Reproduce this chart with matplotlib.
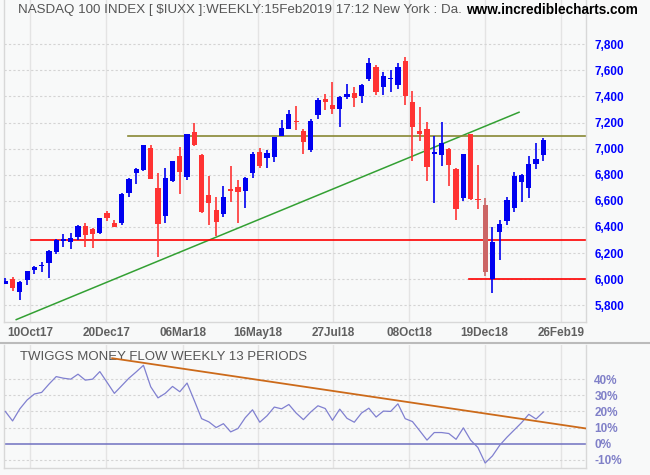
import matplotlib
matplotlib.use("Agg")
import matplotlib.pyplot as plt
from matplotlib.lines import Line2D
import numpy as np

# ---------------- data ----------------
opens = [5964, 6000, 5904, 5995, 6072, 6098, 6126, 6210, 6292, 6285,
         6323, 6405, 6385, 6356, 6508, 6433, 6431, 6659, 6813, 6836,
         7003, 6695, 6482, 6751, 6941, 6782, 7126, 6949, 6646, 6533,
         6497, 6685, 6703, 6677, 6813, 6978, 6928, 6935, 7099, 7153,
         7212, 7132, 6990, 7257, 7381, 7336, 7303, 7392, 7423, 7402,
         7530, 7629, 7471, 7535, 7486, 7675, 7361, 7132, 7147, 6962,
         6951, 6994, 6841, 6621, 7110, 6610, 6572, 6000, 6359, 6444,
         6544, 6744, 6697, 6882, 6951]
highs = [6008, 6015, 5985, 6065, 6103, 6128, 6223, 6305, 6346, 6354,
         6413, 6431, 6390, 6472, 6523, 6456, 6660, 6772, 6849, 7030,
         7026, 6810, 6849, 6905, 7010, 7112, 7195, 6957, 6792, 6633,
         6710, 6864, 6756, 6785, 6972, 7005, 6988, 7090, 7216, 7295,
         7325, 7148, 7224, 7389, 7421, 7510, 7400, 7499, 7476, 7495,
         7698, 7644, 7586, 7606, 7660, 7706, 7438, 7316, 7201, 7094,
         7208, 7004, 6849, 6960, 7112, 6872, 6623, 6397, 6451, 6633,
         6821, 6803, 6944, 7041, 7080]
lows = [5962, 5913, 5841, 5954, 6038, 6056, 6010, 6195, 6246, 6231,
        6300, 6246, 6238, 6349, 6449, 6400, 6418, 6628, 6728, 6828,
        6765, 6167, 6428, 6745, 6651, 6756, 7020, 6510, 6413, 6330,
        6474, 6590, 6433, 6544, 6772, 6850, 6849, 6900, 7097, 7148,
        7143, 6957, 6975, 7224, 7293, 7265, 7165, 7384, 7316, 7346,
        7517, 7410, 7410, 7433, 7456, 7333, 6905, 7058, 6752, 6584,
        6867, 6714, 6454, 6597, 6605, 6541, 6021, 5897, 6144, 6418,
        6518, 6590, 6621, 6844, 6903]
closes = [5985, 5933, 5979, 6062, 6092, 6102, 6215, 6300, 6308, 6315,
          6405, 6338, 6346, 6469, 6469, 6403, 6656, 6764, 6841, 7026,
          6767, 6421, 6772, 6903, 6821, 7110, 7028, 6513, 6587, 6436,
          6633, 6678, 6667, 6772, 6957, 6870, 6965, 7088, 7155, 7262,
          7206, 7051, 7209, 7376, 7354, 7300, 7397, 7415, 7387, 7491,
          7660, 7433, 7553, 7540, 7629, 7402, 7165, 7112, 6859, 6968,
          7040, 6874, 6536, 6956, 6618, 6605, 6051, 6287, 6426, 6603,
          6787, 6795, 6879, 6918, 7064]
highlight_bars = [66]

tmf = [20.0, 14.1, 21.6, 27.1, 30.8, 31.8, 36.9, 41.6, 40.6, 40.0,
       43.1, 39.4, 40.0, 44.7, 38.0, 31.2, 35.9, 40.6, 44.5, 48.6,
       35.3, 28.4, 31.2, 35.5, 32.2, 37.6, 26.7, 15.5, 13.5, 10.0,
       12.4, 7.3, 9.4, 16.1, 21.0, 13.3, 17.3, 22.7, 21.6, 24.3,
       19.0, 14.9, 19.6, 23.5, 21.8, 14.5, 21.4, 15.7, 13.3, 19.0,
       22.0, 16.5, 20.2, 20.0, 24.7, 15.5, 13.7, 8.0, 2.2, 6.9,
       6.9, 6.3, 2.7, 9.8, 2.2, -2.4, -12.0, -7.6, -1.0, 4.0,
       8.5, 13.0, 18.2, 15.3, 19.6]

date_labels = ["10Oct17", "20Dec17", "06Mar18", "16May18", "27Jul18",
               "08Oct18", "19Dec18", "26Feb19"]
price_ticks = [5800, 6000, 6200, 6400, 6600, 6800, 7000, 7200, 7400, 7600, 7800]
tmf_ticks = [-10, 0, 10, 20, 30, 40]

# trend / level lines (index, value)
green_trend = [(1.5, 5690), (70.66, 7279)]
olive_level = (16.9, 7100)
red_level_1 = (3.53, 6300)
red_level_2 = (63.8, 6000)
tmf_trend = [(14.7, 53.0), (79.9, 9.4)]

# ---------------- layout ----------------
W, H = 650, 475
fig = plt.figure(figsize=(6.5, 4.75), dpi=100)
bg = "#f8f9f9"
fig.patch.set_facecolor(bg)
plt.rcParams['font.family'] = ['Liberation Sans', 'DejaVu Sans']

left = 4 / W
width = (586 - 4) / W
ax1 = fig.add_axes([left, 1 - 321.7 / H, width, 321.7 / H])
ax2 = fig.add_axes([left, 1 - 468 / H, width, (468 - 345) / H])

n = len(closes)
x = np.arange(n)
xmin, xmax = -0.18, 79.87
tick_pos = [3.44, 13.89, 24.4, 34.72, 45.1, 55.57, 65.93, 76.4]

for ax in (ax1, ax2):
    ax.set_facecolor(bg)
    ax.set_xlim(xmin, xmax)
    for s in ax.spines.values():
        s.set_color("#d8d8d8")
        s.set_linewidth(1)
    ax.spines['top'].set_visible(False)
    for tp in tick_pos:
        ax.axvline(tp, color="#e4e4e4", lw=1, zorder=0)

# ---------------- main panel ----------------
ax1.set_ylim(5674, 8139)
for t in price_ticks:
    ax1.axhline(t, color="#d4d4d4", lw=0.8, ls=(0, (2, 2)), zorder=0)

up_col = "#0000f0"
dn_col = "#ff3333"
hl_col = "#cc6666"
for i in range(n):
    o, h, l, c = opens[i], highs[i], lows[i], closes[i]
    col = up_col if c >= o else dn_col
    if i in highlight_bars:
        col = hl_col
    ax1.vlines(i, l, h, color=col, lw=1.2, zorder=3)
    bottom = min(o, c)
    hgt = max(abs(c - o), 9)
    ax1.bar(i, hgt, width=0.72, bottom=bottom, color=col, edgecolor=col,
            linewidth=0, zorder=4)

ax1.plot([green_trend[0][0], green_trend[1][0]],
         [green_trend[0][1], green_trend[1][1]], color="#33a033", lw=1.1, zorder=2)
ax1.plot([olive_level[0], xmax], [olive_level[1]] * 2, color="#888833", lw=1.2, zorder=2)
ax1.plot([red_level_1[0], xmax], [red_level_1[1]] * 2, color="#ff0000", lw=1.2, zorder=2)
ax1.plot([red_level_2[0], xmax], [red_level_2[1]] * 2, color="#ff0000", lw=1.2, zorder=2)

ax1.yaxis.tick_right()
ax1.set_yticks(price_ticks)
ax1.set_yticklabels([f"{t:,}" for t in price_ticks], color="#0000ff",
                    fontsize=8.5, fontweight="bold")
ax1.tick_params(axis='y', length=0, pad=6)
ax1.set_xticks(tick_pos)
ax1.set_xticklabels(date_labels, color="#606060", fontsize=8.5, fontweight="bold")
ax1.tick_params(axis='x', length=0, pad=4)

fig.text(18 / W, 1 - 10 / H,
         "NASDAQ 100 INDEX [ $IUXX ]:WEEKLY:15Feb2019 17:12 New York : Da.",
         color="#555555", fontsize=9.6, va="center", ha="left")
fig.text(638 / W, 1 - 10 / H, "www.incrediblecharts.com", color="#000000",
         fontsize=9.8, fontweight="bold", va="center", ha="right")

# separator
fig.add_artist(Line2D([0, 1], [1 - 342.5 / H] * 2, color="#bbbbbb", lw=1.5))

# ---------------- indicator panel ----------------
ax2.set_ylim(-15.1, 61.2)
for t in tmf_ticks:
    if t != 0:
        ax2.axhline(t, color="#d4d4d4", lw=0.8, ls=(0, (2, 2)), zorder=0)
ax2.axhline(0, color="#7070c0", lw=1.1, zorder=1)
ax2.plot(x, tmf, color="#8080d0", lw=0.9, zorder=3)
ax2.plot([tmf_trend[0][0], tmf_trend[1][0]], [tmf_trend[0][1], tmf_trend[1][1]],
         color="#cc6a1a", lw=1.3, zorder=4)
ax2.yaxis.tick_right()
ax2.set_yticks(tmf_ticks)
ax2.set_yticklabels([f"{t}%" for t in tmf_ticks], color="#8080c8",
                    fontsize=8.5, fontweight="bold")
ax2.tick_params(axis='y', length=0, pad=6)
ax2.set_xticks([])
ax2.text(0.027, 0.9, "TWIGGS MONEY FLOW WEEKLY 13 PERIODS", transform=ax2.transAxes,
         color="#555555", fontsize=9.5, va="center", ha="left")

fig.savefig("out.png", dpi=100, facecolor=bg)
